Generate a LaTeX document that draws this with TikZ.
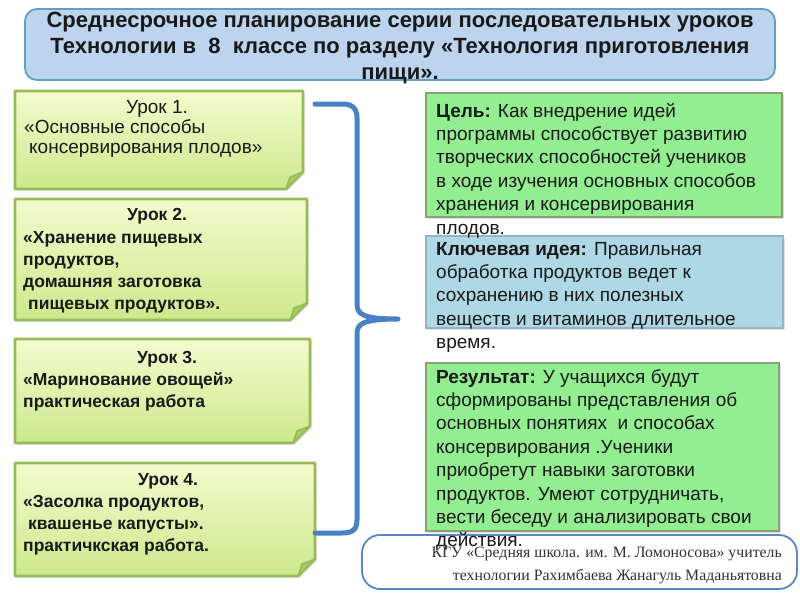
\documentclass[tikz,border=0pt]{standalone}
\usepackage{fontspec}
\setmainfont{Liberation Sans}
\newfontfamily\footserif{Liberation Serif}
\usetikzlibrary{shadows}
\definecolor{titlefill}{RGB}{188,212,238}
\definecolor{titleline}{RGB}{96,160,196}
\definecolor{notetop}{RGB}{244,251,206}
\definecolor{notebot}{RGB}{204,233,140}
\definecolor{noteline}{RGB}{152,187,90}
\definecolor{notefold}{RGB}{170,200,100}
\definecolor{goalfill}{RGB}{146,238,144}
\definecolor{goalline}{RGB}{140,160,120}
\definecolor{keyfill}{RGB}{174,216,230}
\definecolor{keyline}{RGB}{150,180,195}
\definecolor{bracecol}{RGB}{74,128,196}
\definecolor{footline}{RGB}{90,134,197}
\definecolor{txt}{RGB}{25,25,25}
\newcommand\lns[2]{\begin{tabular}[t]{@{}#1@{}}#2\end{tabular}}
\newcommand\notebox[5]{%
  \node[inner sep=0pt, minimum width={#4-#2}, minimum height={#5-#3}] (#1) at ({(#2+#4)/2},{(#3+#5)/2}) {};
  \path[notestyle] (#2,#3) -- (#4,#3) -- (#4,#5-17) -- (#4-17,#5) -- (#2,#5) -- cycle;
  \filldraw[fill=notefold, draw=noteline, line width=1.5pt, line join=round] (#4,#5-17) -- (#4-17,#5) -- (#4-13,#5-12) -- cycle;
}
\begin{document}
\begin{tikzpicture}[x=1pt,y=-1pt,
  notestyle/.style={draw=noteline, line width=2.6pt, top color=notetop, bottom color=notebot, line join=round,
     drop shadow={shadow xshift=1.5pt, shadow yshift=-1.5pt, opacity=0.25}},
  infobox/.style={line width=1.2pt, drop shadow={shadow xshift=1.5pt, shadow yshift=-1.5pt, opacity=0.25}},
  lt/.style={inner sep=0pt, text=txt, font=\fontsize{17.5}{22}\selectfont\bfseries},
  ltone/.style={inner sep=0pt, text=txt, font=\fontsize{19}{20}\selectfont},
  rt/.style={inner sep=0pt, text=txt, font=\fontsize{19}{23.4}\selectfont, anchor=base west},
  brace/.style={draw=bracecol, line width=5pt, line cap=round, line join=round}]
\useasboundingbox[fill=white] (0,0) rectangle (800,600);

% title
\node[draw=titleline, fill=titlefill, line width=1.8pt, rounded corners=12pt, minimum width=750pt, minimum height=71pt, inner sep=0pt] (title) at (400,44.5) {};
\node[inner sep=0pt, anchor=base, text=txt, font=\fontsize{22}{26}\selectfont\bfseries] (titletext) at (400,27)
  {\lns{c}{Среднесрочное планирование серии последовательных уроков\\Технологии в \ 8 \ классе по разделу «Технология приготовления\\пищи».}};

% lesson notes
\notebox{u1}{15}{91}{303}{189}
\notebox{u2}{15}{199}{307}{320}
\notebox{u3}{15}{339}{310}{443}
\notebox{u4}{15}{463}{315}{576}

\node[ltone, anchor=base] (u1h) at (157,113) {Урок 1.};
\node[ltone, anchor=base west] (u1t) at (24,133) {\lns{l}{«Основные способы\\\hspace{5pt}консервирования плодов»}};

\node[lt, anchor=base] (u2h) at (157,220) {Урок 2.};
\node[lt, anchor=base west] (u2t) at (23,243) {\lns{l}{«Хранение пищевых\\продуктов,\\домашняя заготовка\\\hspace{5pt}пищевых продуктов».}};

\node[lt, anchor=base] (u3h) at (167,363) {Урок 3.};
\node[lt, anchor=base west] (u3t) at (23,385) {\lns{l}{«Маринование овощей»\\практическая работа}};

\node[lt, anchor=base] (u4h) at (168,485) {Урок 4.};
\node[lt, anchor=base west] (u4t) at (23,507) {\lns{l}{«Засолка продуктов,\\\hspace{5pt}квашенье капусты».\\практичкская работа.}};

% brace
\coordinate (bt) at (315,104);
\coordinate (bb) at (315,533);
\coordinate (tip) at (398,319);
\draw[brace] (bt) -- (342,104) .. controls (352,104) and (357,108) .. (357,118)
  -- (357,304) .. controls (357,314) and (362,319) .. (tip)
  .. controls (362,319) and (357,324) .. (357,334)
  -- (357,520) .. controls (357,530) and (352,533) .. (342,533) -- (bb);

% right boxes
\node[infobox, draw=goalline, fill=goalfill, minimum width=356pt, minimum height=124pt, inner sep=0pt] (goal) at (604,155) {};
\node[infobox, draw=keyline, fill=keyfill, minimum width=357pt, minimum height=92pt, inner sep=0pt] (key) at (604.5,282) {};
\node[infobox, draw=goalline, fill=goalfill, minimum width=353pt, minimum height=168pt, inner sep=0pt] (res) at (602.5,447) {};
\node[draw=footline, fill=white, line width=1.8pt, rounded corners=18pt, minimum width=435pt, minimum height=54pt, inner sep=0pt] (foot) at (579.5,562) {};

\node[inner sep=0pt, anchor=base east, text={rgb,255:red,50;green,50;blue,50}, font=\footserif\fontsize{15.8}{23}\selectfont] (foottext) at (782,557)
  {\lns{r}{КГУ «Средняя школа. им. М. Ломоносова» учитель\\технологии Рахимбаева Жанагуль Маданьятовна}};

\node[rt] (goaltext) at (436,117) {\lns{l}{\textbf{Цель:} Как внедрение идей\\программы способствует развитию\\творческих способностей учеников\\в ходе изучения основных способов\\хранения и консервирования\\плодов.}};
\node[rt] (keytext) at (436,255) {\lns{l}{\textbf{Ключевая идея:} Правильная\\обработка продуктов ведет к\\сохранению в них полезных\\веществ и витаминов длительное\\время.}};
\node[rt] (restext) at (436,383) {\lns{l}{\textbf{Результат:} У учащихся будут\\сформированы представления об\\основных понятиях \ и способах\\консервирования .Ученики\\приобретут навыки заготовки\\продуктов. Умеют сотрудничать,\\вести беседу и анализировать свои\\действия.}};
\end{tikzpicture}
\end{document}
